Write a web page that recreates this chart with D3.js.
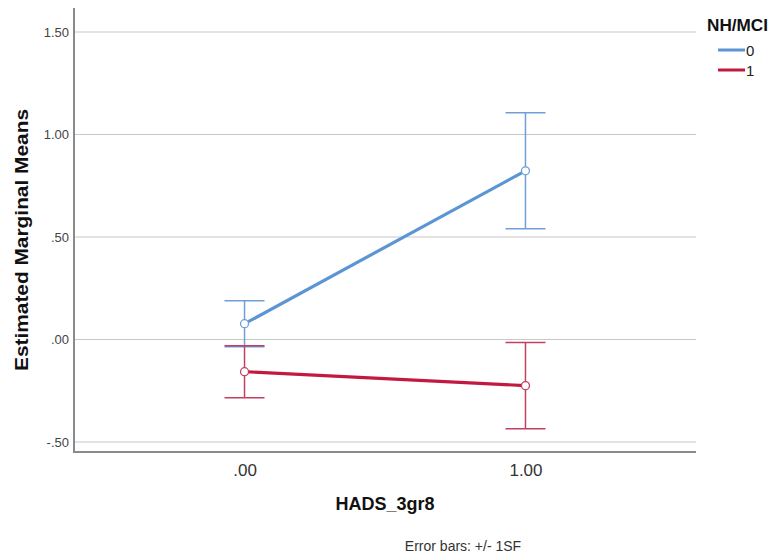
<!DOCTYPE html>
<html><head><meta charset="utf-8">
<script src="https://cdn.jsdelivr.net/npm/d3@7"></script>
<style>body{margin:0;background:#fff;}svg{display:block;font-family:Arial,"Liberation Sans",sans-serif;}</style>
</head><body><svg id="c" width="771" height="559"></svg>
<script>
const categories = [".00", "1.00"];
const groups = ["0", "1"];
const means0 = [0.077, 0.823];
const errs0 = [0.112, 0.283];
const means1 = [-0.157, -0.225];
const errs1 = [0.127, 0.210];
const yTicks = [-0.5, 0, 0.5, 1.0, 1.5];
const colors = ["#5b95d4", "#c3183f"];
const errColors = ["#6f9fd6", "#c24061"];

const svg = d3.select("#c");
const L = 74, R = 696, T = 8, B = 452;
const x = d3.scalePoint().domain(categories).range([L, R]).padding(0.607);
const y = d3.scaleLinear().domain([-0.5, 1.5]).range([442, 32]);

// gridlines
svg.append("g").selectAll("line").data(yTicks).join("line")
  .attr("x1", L).attr("x2", R).attr("y1", d => y(d)).attr("y2", d => y(d))
  .attr("stroke", "#c8c8c8").attr("stroke-width", 1.2);

// axes
const fmt = d => { const s = Math.abs(d).toFixed(2).replace(/^0\./, "."); return (d < 0 ? "-" : "") + s; };
const yAxis = svg.append("g").attr("transform", `translate(${L},0)`)
  .call(d3.axisLeft(y).tickValues(yTicks).tickFormat(fmt).tickSize(0).tickPadding(5));
yAxis.select(".domain").remove();
yAxis.selectAll("text").attr("font-size", 13).attr("fill", "#444").attr("font-family", "Arial, 'Liberation Sans', sans-serif");
svg.append("line").attr("x1", L).attr("x2", L).attr("y1", T).attr("y2", B).attr("stroke", "#8a8a8a").attr("stroke-width", 2);

const xAxis = svg.append("g").attr("transform", `translate(0,${B})`)
  .call(d3.axisBottom(x).tickSize(0).tickPadding(12));
xAxis.select(".domain").remove();
xAxis.selectAll("text").attr("font-size", 17).attr("fill", "#333").attr("font-family", "Arial, 'Liberation Sans', sans-serif");
svg.append("line").attr("x1", L - 1).attr("x2", R).attr("y1", B).attr("y2", B).attr("stroke", "#8a8a8a").attr("stroke-width", 2);

// titles
svg.append("text").attr("transform", `translate(28,240) rotate(-90)`).attr("text-anchor", "middle")
  .attr("font-size", 18).attr("font-weight", "bold").attr("fill", "#111")
  .attr("textLength", 262).attr("lengthAdjust", "spacingAndGlyphs").text("Estimated Marginal Means");
svg.append("text").attr("x", (L + R) / 2).attr("y", 510).attr("text-anchor", "middle")
  .attr("font-size", 18).attr("font-weight", "bold").attr("fill", "#111").text("HADS_3gr8");
svg.append("text").attr("x", 463).attr("y", 551).attr("text-anchor", "middle")
  .attr("font-size", 14).attr("fill", "#333").text("Error bars: +/- 1SF");

// series
const series = [
  { key: groups[0], means: means0, errs: errs0, c: colors[0], ec: errColors[0] },
  { key: groups[1], means: means1, errs: errs1, c: colors[1], ec: errColors[1] }
];
series.forEach(s => {
  const pts = categories.map((cat, i) => ({ cat, m: s.means[i], e: s.errs[i] }));
  const g = svg.append("g");
  pts.forEach(p => {
    const cx = x(p.cat);
    g.append("line").attr("x1", cx).attr("x2", cx).attr("y1", y(p.m + p.e)).attr("y2", y(p.m - p.e))
      .attr("stroke", s.ec).attr("stroke-width", 1.5);
    [p.m + p.e, p.m - p.e].forEach(v => {
      g.append("line").attr("x1", cx - 20).attr("x2", cx + 20).attr("y1", y(v)).attr("y2", y(v))
        .attr("stroke", s.ec).attr("stroke-width", 1.5);
    });
  });
  g.append("path").datum(pts)
    .attr("d", d3.line().x(d => x(d.cat)).y(d => y(d.m)))
    .attr("fill", "none").attr("stroke", s.c).attr("stroke-width", 3.2);
  g.selectAll("circle").data(pts).join("circle")
    .attr("cx", d => x(d.cat)).attr("cy", d => y(d.m)).attr("r", 4)
    .attr("fill", "#fff").attr("stroke", s.ec).attr("stroke-width", 1.3);
});

// legend
svg.append("text").attr("x", 707).attr("y", 31).attr("font-size", 16).attr("font-weight", "bold")
  .attr("fill", "#111").attr("textLength", 61).attr("lengthAdjust", "spacingAndGlyphs").text("NH/MCI");
series.forEach((s, i) => {
  const ly = 50 + i * 20;
  svg.append("line").attr("x1", 718).attr("x2", 745).attr("y1", ly).attr("y2", ly)
    .attr("stroke", s.c).attr("stroke-width", 3);
  svg.append("text").attr("x", 746).attr("y", ly + 6).attr("font-size", 15).attr("fill", "#222").text(s.key);
});
</script></body></html>
